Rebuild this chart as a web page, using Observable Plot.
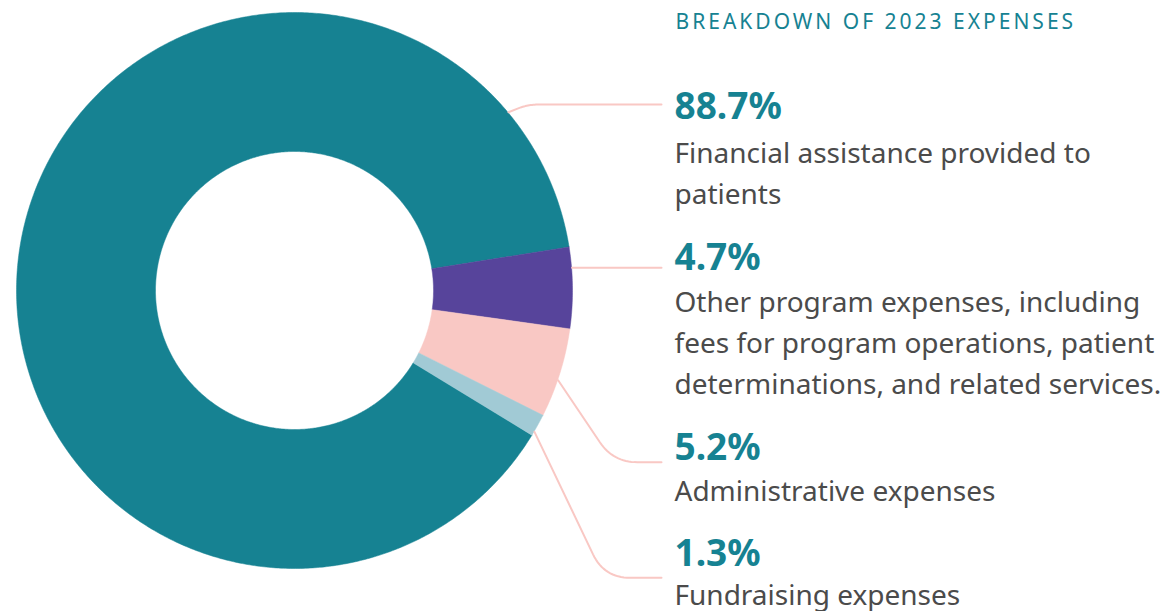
<!DOCTYPE html>
<html>
<head>
<meta charset="utf-8">
<script src="https://cdn.jsdelivr.net/npm/d3@7"></script>
<script src="https://cdn.jsdelivr.net/npm/@observablehq/plot@0.6"></script>
<style>
  html, body { margin: 0; padding: 0; background: #ffffff; }
  #chart svg { display: block; }
</style>
</head>
<body>
<div id="chart"></div>
<script>
// ---- data ----
const title = "BREAKDOWN OF 2023 EXPENSES";
const categories = [
  "Financial assistance provided to patients",
  "Other program expenses",
  "Administrative expenses",
  "Fundraising expenses"
];
const shares = [88.7, 4.7, 5.2, 1.3];
const percentLabels = ["88.7%", "4.7%", "5.2%", "1.3%"];
const descriptionLines = [
  ["Financial assistance provided to", "patients"],
  ["Other program expenses, including", "fees for program operations, patient", "determinations, and related services."],
  ["Administrative expenses"],
  ["Fundraising expenses"]
];
const sliceColors = ["#168292", "#57449b", "#f9c8c4", "#a1cad5"];

// ---- layout ----
const W = 1174, H = 611;
const cx = 294, cy = 290, R = 278, r = 139;
const firstSliceEndDeg = 81;            // clockwise from 12 o'clock
const labelX = 674;
const percentBaselines = [118, 269, 459, 565];
const descBaselines = [162.5, 311, 500, 604];
const descLineStep = 41;
// leader lines: anchor angle on the ring, direction of the first leg, horizontal level, rounding
const leaderAnchorDeg = [50.2, 85.3, 108.8, 120.5];
const leaderDir = [[1, -0.4], [1, 0], [37, 55], [58, 121.3]];
const leaderY = [104, 267.3, 461.7, 577.3];
const leaderRound = [11, 0, 24, 26];
const leaderEndX = 661;

// ---- slices (from values) ----
const total = d3.sum(shares);
const start = firstSliceEndDeg * Math.PI / 180 - shares[0] / total * 2 * Math.PI;
const arcs = d3.pie().sort(null).startAngle(start).endAngle(start + 2 * Math.PI)(shares);
const pt = (a, rad) => [cx + rad * Math.sin(a), cy - rad * Math.cos(a)];
const slicePts = [];
arcs.forEach((arc, i) => {
  const n = Math.max(2, Math.ceil((arc.endAngle - arc.startAngle) / (Math.PI / 360)) + 1);
  const ring = [];
  for (let k = 0; k < n; k++) {
    const a = arc.startAngle + (arc.endAngle - arc.startAngle) * k / (n - 1);
    ring.push(pt(a, R));
  }
  for (let k = n - 1; k >= 0; k--) {
    const a = arc.startAngle + (arc.endAngle - arc.startAngle) * k / (n - 1);
    ring.push(pt(a, r));
  }
  ring.push(ring[0]);
  ring.forEach(([x, y]) => slicePts.push({cat: categories[i], x, y}));
});

// ---- leader lines ----
const leaderPts = [];
categories.forEach((cat, i) => {
  const [sx, sy] = pt(leaderAnchorDeg[i] * Math.PI / 180, R + 0.5);
  const [dx, dy] = leaderDir[i];
  const len = Math.hypot(dx, dy), ux = dx / len, uy = dy / len;
  const pts = [[sx, sy]];
  if (Math.abs(uy) > 1e-6) {
    const t = (leaderY[i] - sy) / uy;
    const C = [sx + ux * t, leaderY[i]];
    const rr = Math.min(leaderRound[i], t);
    const A = [C[0] - ux * rr, C[1] - uy * rr];
    const B = [C[0] + rr, C[1]];
    pts.push(A);
    for (let k = 1; k <= 16; k++) {
      const s = k / 16;
      pts.push([
        (1 - s) * (1 - s) * A[0] + 2 * (1 - s) * s * C[0] + s * s * B[0],
        (1 - s) * (1 - s) * A[1] + 2 * (1 - s) * s * C[1] + s * s * B[1]
      ]);
    }
  } else {
    pts[0] = [sx, leaderY[i]];
  }
  pts.push([leaderEndX, leaderY[i]]);
  pts.forEach(([x, y]) => leaderPts.push({cat, x, y}));
});

// ---- text rows ----
const percentRows = percentLabels.map((t, i) => ({x: labelX, y: percentBaselines[i], text: t}));
const descRows = descriptionLines.flatMap((lines, i) =>
  lines.map((t, j) => ({x: labelX, y: descBaselines[i] + j * descLineStep, text: t})));

const chart = Plot.plot({
  width: W,
  height: H,
  margin: 0,
  style: {fontFamily: "'Noto Sans', sans-serif", background: "#ffffff", overflow: "visible"},
  x: {domain: [0, W], range: [0, W], axis: null},
  y: {domain: [0, H], range: [0, H], axis: null},
  color: {domain: categories, range: sliceColors},
  marks: [
    Plot.line(slicePts, {x: "x", y: "y", z: "cat", fill: "cat", stroke: "cat", strokeWidth: 0.5, curve: "linear"}),
    Plot.line(leaderPts, {x: "x", y: "y", z: "cat", stroke: "#f9c8c4", strokeWidth: 2, curve: "linear"}),
    Plot.text([title], {x: () => labelX + 1, y: () => 28, text: d => d, textAnchor: "start", lineAnchor: "bottom",
      fontSize: 21, fill: "#168292"}),
    Plot.text(percentRows, {x: "x", y: "y", text: "text", textAnchor: "start", lineAnchor: "bottom",
      fontSize: 37, fontWeight: "bold", fill: "#168292"}),
    Plot.text(descRows, {x: "x", y: "y", text: "text", textAnchor: "start", lineAnchor: "bottom",
      fontSize: 28, fill: "#4b4b4b"})
  ]
});
d3.select(chart).selectAll("text").filter(function () { return this.textContent === title; })
  .style("letter-spacing", "3px");
document.getElementById("chart").appendChild(chart);
</script>
</body>
</html>
